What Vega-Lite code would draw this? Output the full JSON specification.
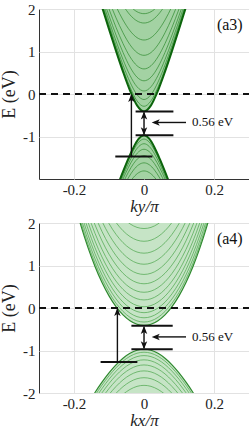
{
  "$schema": "https://vega.github.io/schema/vega-lite/v6.json",
  "background": "white",
  "padding": {"left": 0, "top": 1, "right": 0, "bottom": 0},
  "spacing": 0,
  "config": {
    "font": "'Liberation Serif', 'Times New Roman', serif",
    "view": {"stroke": "#333333", "strokeWidth": 1},
    "axis": {
      "labelFont": "'Liberation Serif', 'Times New Roman', serif", "labelFontSize": 15, "labelColor": "#222222",
      "titleFont": "'Liberation Serif', 'Times New Roman', serif", "titleFontSize": 18, "titleFontWeight": "normal", "titleColor": "#222222",
      "gridColor": "#e2e2e2", "gridWidth": 1, "domain": false, "ticks": false
    },
    "text": {"font": "'Liberation Serif', 'Times New Roman', serif"}
  },
  "datasets": {
    "cb1": [
      {"k": -0.12, "c0": 2.050, "c1": 2.087, "c2": 2.141, "c3": 2.218, "c4": 2.322, "c5": 2.460, "c6": 2.634, "c7": 2.851, "c8": 3.113, "c9": 3.266},
      {"k": -0.10, "c0": 1.526, "c1": 1.569, "c2": 1.633, "c3": 1.722, "c4": 1.842, "c5": 1.999, "c6": 2.196, "c7": 2.437, "c8": 2.726, "c9": 2.892},
      {"k": -0.08, "c0": 1.014, "c1": 1.066, "c2": 1.143, "c3": 1.248, "c4": 1.389, "c5": 1.569, "c6": 1.793, "c7": 2.063, "c8": 2.380, "c9": 2.561},
      {"k": -0.06, "c0": 0.525, "c1": 0.589, "c2": 0.683, "c3": 0.811, "c4": 0.978, "c5": 1.187, "c6": 1.441, "c7": 1.741, "c8": 2.087, "c9": 2.282},
      {"k": -0.04, "c0": 0.080, "c1": 0.163, "c2": 0.280, "c3": 0.437, "c4": 0.634, "c5": 0.875, "c6": 1.159, "c7": 1.489, "c8": 1.862, "c9": 2.070},
      {"k": -0.02, "c0": -0.268, "c1": -0.161, "c2": -0.016, "c3": 0.170, "c4": 0.396, "c5": 0.665, "c6": 0.975, "c7": 1.326, "c8": 1.719, "c9": 1.936},
      {"k": 0, "c0": -0.41, "c1": -0.29, "c2": -0.13, "c3": 0.07, "c4": 0.31, "c5": 0.59, "c6": 0.91, "c7": 1.27, "c8": 1.67, "c9": 1.89},
      {"k": 0.02, "c0": -0.268, "c1": -0.161, "c2": -0.016, "c3": 0.170, "c4": 0.396, "c5": 0.665, "c6": 0.975, "c7": 1.326, "c8": 1.719, "c9": 1.936},
      {"k": 0.04, "c0": 0.080, "c1": 0.163, "c2": 0.280, "c3": 0.437, "c4": 0.634, "c5": 0.875, "c6": 1.159, "c7": 1.489, "c8": 1.862, "c9": 2.070},
      {"k": 0.06, "c0": 0.525, "c1": 0.589, "c2": 0.683, "c3": 0.811, "c4": 0.978, "c5": 1.187, "c6": 1.441, "c7": 1.741, "c8": 2.087, "c9": 2.282},
      {"k": 0.08, "c0": 1.014, "c1": 1.066, "c2": 1.143, "c3": 1.248, "c4": 1.389, "c5": 1.569, "c6": 1.793, "c7": 2.063, "c8": 2.380, "c9": 2.561},
      {"k": 0.10, "c0": 1.526, "c1": 1.569, "c2": 1.633, "c3": 1.722, "c4": 1.842, "c5": 1.999, "c6": 2.196, "c7": 2.437, "c8": 2.726, "c9": 2.892},
      {"k": 0.12, "c0": 2.050, "c1": 2.087, "c2": 2.141, "c3": 2.218, "c4": 2.322, "c5": 2.460, "c6": 2.634, "c7": 2.851, "c8": 3.113, "c9": 3.266}
    ],
    "vb1": [
      {"k": -0.075, "c0": -2.146, "c1": -2.181, "c2": -2.229, "c3": -2.292, "c4": -2.373, "c5": -2.473, "c6": -2.594},
      {"k": -0.06, "c0": -1.828, "c1": -1.871, "c2": -1.928, "c3": -2.002, "c4": -2.095, "c5": -2.209, "c6": -2.346},
      {"k": -0.045, "c0": -1.527, "c1": -1.579, "c2": -1.649, "c3": -1.737, "c4": -1.846, "c5": -1.977, "c6": -2.131},
      {"k": -0.03, "c0": -1.257, "c1": -1.323, "c2": -1.408, "c3": -1.513, "c4": -1.640, "c5": -1.789, "c6": -1.960},
      {"k": -0.015, "c0": -1.052, "c1": -1.133, "c2": -1.235, "c3": -1.357, "c4": -1.500, "c5": -1.664, "c6": -1.849},
      {"k": 0, "c0": -0.97, "c1": -1.06, "c2": -1.17, "c3": -1.30, "c4": -1.45, "c5": -1.62, "c6": -1.81},
      {"k": 0.015, "c0": -1.052, "c1": -1.133, "c2": -1.235, "c3": -1.357, "c4": -1.500, "c5": -1.664, "c6": -1.849},
      {"k": 0.03, "c0": -1.257, "c1": -1.323, "c2": -1.408, "c3": -1.513, "c4": -1.640, "c5": -1.789, "c6": -1.960},
      {"k": 0.045, "c0": -1.527, "c1": -1.579, "c2": -1.649, "c3": -1.737, "c4": -1.846, "c5": -1.977, "c6": -2.131},
      {"k": 0.06, "c0": -1.828, "c1": -1.871, "c2": -1.928, "c3": -2.002, "c4": -2.095, "c5": -2.209, "c6": -2.346},
      {"k": 0.075, "c0": -2.146, "c1": -2.181, "c2": -2.229, "c3": -2.292, "c4": -2.373, "c5": -2.473, "c6": -2.594}
    ],
    "cb2": [
      {"k": -0.20, "c0": 2.517, "c1": 2.597, "c2": 2.697, "c3": 2.817, "c4": 2.957, "c5": 3.117, "c6": 3.297, "c7": 3.497, "c8": 3.717, "c9": 3.957, "c10": 4.217, "c11": 4.497, "c12": 4.797},
      {"k": -0.18, "c0": 1.932, "c1": 2.012, "c2": 2.112, "c3": 2.232, "c4": 2.372, "c5": 2.532, "c6": 2.712, "c7": 2.912, "c8": 3.132, "c9": 3.372, "c10": 3.632, "c11": 3.912, "c12": 4.212},
      {"k": -0.16, "c0": 1.42, "c1": 1.50, "c2": 1.60, "c3": 1.72, "c4": 1.86, "c5": 2.02, "c6": 2.20, "c7": 2.40, "c8": 2.62, "c9": 2.86, "c10": 3.12, "c11": 3.40, "c12": 3.70},
      {"k": -0.14, "c0": 0.977, "c1": 1.057, "c2": 1.157, "c3": 1.277, "c4": 1.417, "c5": 1.577, "c6": 1.757, "c7": 1.957, "c8": 2.177, "c9": 2.417, "c10": 2.677, "c11": 2.957, "c12": 3.257},
      {"k": -0.12, "c0": 0.60, "c1": 0.68, "c2": 0.78, "c3": 0.90, "c4": 1.04, "c5": 1.20, "c6": 1.38, "c7": 1.58, "c8": 1.80, "c9": 2.04, "c10": 2.30, "c11": 2.58, "c12": 2.88},
      {"k": -0.10, "c0": 0.286, "c1": 0.366, "c2": 0.466, "c3": 0.586, "c4": 0.726, "c5": 0.886, "c6": 1.066, "c7": 1.266, "c8": 1.486, "c9": 1.726, "c10": 1.986, "c11": 2.266, "c12": 2.566},
      {"k": -0.08, "c0": 0.033, "c1": 0.113, "c2": 0.213, "c3": 0.333, "c4": 0.473, "c5": 0.633, "c6": 0.813, "c7": 1.013, "c8": 1.233, "c9": 1.473, "c10": 1.733, "c11": 2.013, "c12": 2.313},
      {"k": -0.06, "c0": -0.162, "c1": -0.082, "c2": 0.018, "c3": 0.138, "c4": 0.278, "c5": 0.438, "c6": 0.618, "c7": 0.818, "c8": 1.038, "c9": 1.278, "c10": 1.538, "c11": 1.818, "c12": 2.118},
      {"k": -0.04, "c0": -0.30, "c1": -0.22, "c2": -0.12, "c3": 0.00, "c4": 0.14, "c5": 0.30, "c6": 0.48, "c7": 0.68, "c8": 0.90, "c9": 1.14, "c10": 1.40, "c11": 1.68, "c12": 1.98},
      {"k": -0.02, "c0": -0.383, "c1": -0.303, "c2": -0.203, "c3": -0.083, "c4": 0.057, "c5": 0.217, "c6": 0.397, "c7": 0.597, "c8": 0.817, "c9": 1.057, "c10": 1.317, "c11": 1.597, "c12": 1.897},
      {"k": 0, "c0": -0.41, "c1": -0.33, "c2": -0.23, "c3": -0.11, "c4": 0.03, "c5": 0.19, "c6": 0.37, "c7": 0.57, "c8": 0.79, "c9": 1.03, "c10": 1.29, "c11": 1.57, "c12": 1.87},
      {"k": 0.02, "c0": -0.383, "c1": -0.303, "c2": -0.203, "c3": -0.083, "c4": 0.057, "c5": 0.217, "c6": 0.397, "c7": 0.597, "c8": 0.817, "c9": 1.057, "c10": 1.317, "c11": 1.597, "c12": 1.897},
      {"k": 0.04, "c0": -0.30, "c1": -0.22, "c2": -0.12, "c3": 0.00, "c4": 0.14, "c5": 0.30, "c6": 0.48, "c7": 0.68, "c8": 0.90, "c9": 1.14, "c10": 1.40, "c11": 1.68, "c12": 1.98},
      {"k": 0.06, "c0": -0.162, "c1": -0.082, "c2": 0.018, "c3": 0.138, "c4": 0.278, "c5": 0.438, "c6": 0.618, "c7": 0.818, "c8": 1.038, "c9": 1.278, "c10": 1.538, "c11": 1.818, "c12": 2.118},
      {"k": 0.08, "c0": 0.033, "c1": 0.113, "c2": 0.213, "c3": 0.333, "c4": 0.473, "c5": 0.633, "c6": 0.813, "c7": 1.013, "c8": 1.233, "c9": 1.473, "c10": 1.733, "c11": 2.013, "c12": 2.313},
      {"k": 0.10, "c0": 0.286, "c1": 0.366, "c2": 0.466, "c3": 0.586, "c4": 0.726, "c5": 0.886, "c6": 1.066, "c7": 1.266, "c8": 1.486, "c9": 1.726, "c10": 1.986, "c11": 2.266, "c12": 2.566},
      {"k": 0.12, "c0": 0.60, "c1": 0.68, "c2": 0.78, "c3": 0.90, "c4": 1.04, "c5": 1.20, "c6": 1.38, "c7": 1.58, "c8": 1.80, "c9": 2.04, "c10": 2.30, "c11": 2.58, "c12": 2.88},
      {"k": 0.14, "c0": 0.977, "c1": 1.057, "c2": 1.157, "c3": 1.277, "c4": 1.417, "c5": 1.577, "c6": 1.757, "c7": 1.957, "c8": 2.177, "c9": 2.417, "c10": 2.677, "c11": 2.957, "c12": 3.257},
      {"k": 0.16, "c0": 1.42, "c1": 1.50, "c2": 1.60, "c3": 1.72, "c4": 1.86, "c5": 2.02, "c6": 2.20, "c7": 2.40, "c8": 2.62, "c9": 2.86, "c10": 3.12, "c11": 3.40, "c12": 3.70},
      {"k": 0.18, "c0": 1.932, "c1": 2.012, "c2": 2.112, "c3": 2.232, "c4": 2.372, "c5": 2.532, "c6": 2.712, "c7": 2.912, "c8": 3.132, "c9": 3.372, "c10": 3.632, "c11": 3.912, "c12": 4.212},
      {"k": 0.20, "c0": 2.517, "c1": 2.597, "c2": 2.697, "c3": 2.817, "c4": 2.957, "c5": 3.117, "c6": 3.297, "c7": 3.497, "c8": 3.717, "c9": 3.957, "c10": 4.217, "c11": 4.497, "c12": 4.797}
    ],
    "vb2": [
      {"k": -0.16, "c0": -2.252, "c1": -2.322, "c2": -2.402, "c3": -2.502, "c4": -2.622, "c5": -2.762, "c6": -2.922, "c7": -3.102},
      {"k": -0.14, "c0": -1.988, "c1": -2.058, "c2": -2.138, "c3": -2.238, "c4": -2.358, "c5": -2.498, "c6": -2.658, "c7": -2.838},
      {"k": -0.12, "c0": -1.745, "c1": -1.815, "c2": -1.895, "c3": -1.995, "c4": -2.115, "c5": -2.255, "c6": -2.415, "c7": -2.595},
      {"k": -0.10, "c0": -1.526, "c1": -1.596, "c2": -1.676, "c3": -1.776, "c4": -1.896, "c5": -2.036, "c6": -2.196, "c7": -2.376},
      {"k": -0.08, "c0": -1.337, "c1": -1.407, "c2": -1.487, "c3": -1.587, "c4": -1.707, "c5": -1.847, "c6": -2.007, "c7": -2.187},
      {"k": -0.06, "c0": -1.181, "c1": -1.251, "c2": -1.331, "c3": -1.431, "c4": -1.551, "c5": -1.691, "c6": -1.851, "c7": -2.031},
      {"k": -0.04, "c0": -1.066, "c1": -1.136, "c2": -1.216, "c3": -1.316, "c4": -1.436, "c5": -1.576, "c6": -1.736, "c7": -1.916},
      {"k": -0.02, "c0": -0.994, "c1": -1.064, "c2": -1.144, "c3": -1.244, "c4": -1.364, "c5": -1.504, "c6": -1.664, "c7": -1.844},
      {"k": 0, "c0": -0.97, "c1": -1.04, "c2": -1.12, "c3": -1.22, "c4": -1.34, "c5": -1.48, "c6": -1.64, "c7": -1.82},
      {"k": 0.02, "c0": -0.994, "c1": -1.064, "c2": -1.144, "c3": -1.244, "c4": -1.364, "c5": -1.504, "c6": -1.664, "c7": -1.844},
      {"k": 0.04, "c0": -1.066, "c1": -1.136, "c2": -1.216, "c3": -1.316, "c4": -1.436, "c5": -1.576, "c6": -1.736, "c7": -1.916},
      {"k": 0.06, "c0": -1.181, "c1": -1.251, "c2": -1.331, "c3": -1.431, "c4": -1.551, "c5": -1.691, "c6": -1.851, "c7": -2.031},
      {"k": 0.08, "c0": -1.337, "c1": -1.407, "c2": -1.487, "c3": -1.587, "c4": -1.707, "c5": -1.847, "c6": -2.007, "c7": -2.187},
      {"k": 0.10, "c0": -1.526, "c1": -1.596, "c2": -1.676, "c3": -1.776, "c4": -1.896, "c5": -2.036, "c6": -2.196, "c7": -2.376},
      {"k": 0.12, "c0": -1.745, "c1": -1.815, "c2": -1.895, "c3": -1.995, "c4": -2.115, "c5": -2.255, "c6": -2.415, "c7": -2.595},
      {"k": 0.14, "c0": -1.988, "c1": -2.058, "c2": -2.138, "c3": -2.238, "c4": -2.358, "c5": -2.498, "c6": -2.658, "c7": -2.838},
      {"k": 0.16, "c0": -2.252, "c1": -2.322, "c2": -2.402, "c3": -2.502, "c4": -2.622, "c5": -2.762, "c6": -2.922, "c7": -3.102}
    ],
    "dash": [{"k": -0.3, "k2": 0.3, "E": 0, "E2": 0}],
    "bars1": [
      {"k": -0.024, "k2": 0.084, "E": -0.41, "E2": -0.41},
      {"k": -0.024, "k2": 0.084, "E": -0.97, "E2": -0.97},
      {"k": -0.082, "k2": 0.024, "E": -1.47, "E2": -1.47}
    ],
    "shafts1": [
      {"k": -0.036, "k2": -0.036, "E": -1.47, "E2": -0.03},
      {"k": 0, "k2": 0, "E": -0.44, "E2": -0.94},
      {"k": 0.12, "k2": 0.03, "E": -0.67, "E2": -0.67}
    ],
    "up1": [{"k": -0.036, "E": 0}, {"k": 0, "E": -0.41}],
    "down1": [{"k": 0, "E": -0.97}],
    "left1": [{"k": 0.022, "E": -0.67}],
    "gap1": [{"k": 0.137, "E": -0.67, "label": "0.56 eV"}],
    "tag1": [{"k": 0.245, "E": 1.62, "label": "(a3)"}],
    "bars2": [
      {"k": -0.036, "k2": 0.082, "E": -0.42, "E2": -0.42},
      {"k": -0.036, "k2": 0.082, "E": -0.97, "E2": -0.97},
      {"k": -0.124, "k2": -0.019, "E": -1.27, "E2": -1.27}
    ],
    "shafts2": [
      {"k": -0.076, "k2": -0.076, "E": -1.27, "E2": -0.03},
      {"k": 0, "k2": 0, "E": -0.45, "E2": -0.94},
      {"k": 0.12, "k2": 0.03, "E": -0.68, "E2": -0.68}
    ],
    "up2": [{"k": -0.076, "E": 0}, {"k": 0, "E": -0.42}],
    "down2": [{"k": 0, "E": -0.97}],
    "left2": [{"k": 0.022, "E": -0.68}],
    "gap2": [{"k": 0.137, "E": -0.68, "label": "0.56 eV"}],
    "tag2": [{"k": 0.245, "E": 1.62, "label": "(a4)"}]
  },
  "vconcat": [
    {
      "width": 210, "height": 170,
      "encoding": {
        "x": {"field": "k", "type": "quantitative", "scale": {"domain": [-0.3, 0.3], "nice": false, "zero": false},
              "axis": {"values": [-0.2, 0, 0.2], "labelExpr": "'' + datum.value", "title": "ky/π", "titleFontStyle": "italic", "titleFontSize": 17, "labelPadding": 3, "titlePadding": 1}},
        "y": {"field": "E", "type": "quantitative", "scale": {"domain": [-2, 2], "nice": false, "zero": false},
              "axis": {"values": [-1, 0, 1, 2], "labelExpr": "'' + datum.value", "title": "E (eV)", "labelPadding": 4, "titlePadding": 4}}
      },
      "layer": [
        {"data": {"name": "cb1"}, "transform": [{"fold": ["c0"], "as": ["curve", "E"]}],
         "mark": {"type": "area", "interpolate": "monotone", "clip": true, "color": "#a3d2a3"},
         "encoding": {"y2": {"datum": 2}}},
        {"data": {"name": "vb1"}, "transform": [{"fold": ["c0"], "as": ["curve", "E"]}],
         "mark": {"type": "area", "interpolate": "monotone", "clip": true, "color": "#a3d2a3"},
         "encoding": {"y2": {"datum": -2}}},
        {"data": {"name": "cb1"}, "transform": [{"fold": ["c1", "c2", "c3", "c4", "c5", "c6", "c7", "c8", "c9"], "as": ["curve", "E"]}],
         "mark": {"type": "line", "interpolate": "monotone", "clip": true, "color": "#2e8a2e", "strokeWidth": 0.7},
         "encoding": {"detail": {"field": "curve"}}},
        {"data": {"name": "vb1"}, "transform": [{"fold": ["c1", "c2", "c3", "c4", "c5", "c6"], "as": ["curve", "E"]}],
         "mark": {"type": "line", "interpolate": "monotone", "clip": true, "color": "#2e8a2e", "strokeWidth": 0.7},
         "encoding": {"detail": {"field": "curve"}}},
        {"data": {"name": "cb1"}, "transform": [{"fold": ["c0"], "as": ["curve", "E"]}],
         "mark": {"type": "line", "interpolate": "monotone", "clip": true, "color": "#0c650c", "strokeWidth": 2},
         "encoding": {}},
        {"data": {"name": "vb1"}, "transform": [{"fold": ["c0"], "as": ["curve", "E"]}],
         "mark": {"type": "line", "interpolate": "monotone", "clip": true, "color": "#0c650c", "strokeWidth": 2},
         "encoding": {}},
        {"data": {"name": "dash"}, "mark": {"type": "rule", "color": "#111111", "strokeWidth": 2, "strokeDash": [7, 5]},
         "encoding": {"x2": {"field": "k2"}, "y2": {"field": "E2"}}},
        {"data": {"name": "bars1"}, "mark": {"type": "rule", "color": "#111111", "strokeWidth": 2},
         "encoding": {"x2": {"field": "k2"}, "y2": {"field": "E2"}}},
        {"data": {"name": "shafts1"}, "mark": {"type": "rule", "color": "#111111", "strokeWidth": 1.4},
         "encoding": {"x2": {"field": "k2"}, "y2": {"field": "E2"}}},
        {"data": {"name": "up1"}, "mark": {"type": "point", "shape": "M0,0L-0.4,1L0,0.75L0.4,1Z", "filled": true, "opacity": 1, "color": "#111111", "size": 260, "angle": 0}},
        {"data": {"name": "down1"}, "mark": {"type": "point", "shape": "M0,0L-0.4,1L0,0.75L0.4,1Z", "filled": true, "opacity": 1, "color": "#111111", "size": 260, "angle": 180}},
        {"data": {"name": "left1"}, "mark": {"type": "point", "shape": "M0,0L-0.4,1L0,0.75L0.4,1Z", "filled": true, "opacity": 1, "color": "#111111", "size": 260, "angle": 270}},
        {"data": {"name": "gap1"}, "mark": {"type": "text", "align": "left", "baseline": "middle", "fontSize": 13, "color": "#111111"},
         "encoding": {"text": {"field": "label"}}},
        {"data": {"name": "tag1"}, "mark": {"type": "text", "align": "center", "baseline": "middle", "fontSize": 16, "color": "#111111"},
         "encoding": {"text": {"field": "label"}}}
      ]
    },
    {
      "width": 210, "height": 170,
      "encoding": {
        "x": {"field": "k", "type": "quantitative", "scale": {"domain": [-0.3, 0.3], "nice": false, "zero": false},
              "axis": {"values": [-0.2, 0, 0.2], "labelExpr": "'' + datum.value", "title": "kx/π", "titleFontStyle": "italic", "titleFontSize": 17, "labelPadding": 3, "titlePadding": 1}},
        "y": {"field": "E", "type": "quantitative", "scale": {"domain": [-2, 2], "nice": false, "zero": false},
              "axis": {"values": [-2, -1, 0, 1, 2], "labelExpr": "'' + datum.value", "title": "E (eV)", "labelPadding": 4, "titlePadding": 4}}
      },
      "layer": [
        {"data": {"name": "cb2"}, "transform": [{"fold": ["c0"], "as": ["curve", "E"]}],
         "mark": {"type": "area", "interpolate": "monotone", "clip": true, "color": "#c6e4c6"},
         "encoding": {"y2": {"datum": 2}}},
        {"data": {"name": "vb2"}, "transform": [{"fold": ["c0"], "as": ["curve", "E"]}],
         "mark": {"type": "area", "interpolate": "monotone", "clip": true, "color": "#c6e4c6"},
         "encoding": {"y2": {"datum": -2}}},
        {"data": {"name": "cb2"}, "transform": [{"fold": ["c1", "c2", "c3", "c4", "c5", "c6", "c7", "c8", "c9", "c10", "c11", "c12"], "as": ["curve", "E"]}],
         "mark": {"type": "line", "interpolate": "monotone", "clip": true, "color": "#4aa54a", "strokeWidth": 0.7},
         "encoding": {"detail": {"field": "curve"}}},
        {"data": {"name": "vb2"}, "transform": [{"fold": ["c1", "c2", "c3", "c4", "c5", "c6", "c7"], "as": ["curve", "E"]}],
         "mark": {"type": "line", "interpolate": "monotone", "clip": true, "color": "#4aa54a", "strokeWidth": 0.7},
         "encoding": {"detail": {"field": "curve"}}},
        {"data": {"name": "cb2"}, "transform": [{"fold": ["c0"], "as": ["curve", "E"]}],
         "mark": {"type": "line", "interpolate": "monotone", "clip": true, "color": "#2f8a2f", "strokeWidth": 1.2},
         "encoding": {}},
        {"data": {"name": "vb2"}, "transform": [{"fold": ["c0"], "as": ["curve", "E"]}],
         "mark": {"type": "line", "interpolate": "monotone", "clip": true, "color": "#2f8a2f", "strokeWidth": 1.2},
         "encoding": {}},
        {"data": {"name": "dash"}, "mark": {"type": "rule", "color": "#111111", "strokeWidth": 2, "strokeDash": [7, 5]},
         "encoding": {"x2": {"field": "k2"}, "y2": {"field": "E2"}}},
        {"data": {"name": "bars2"}, "mark": {"type": "rule", "color": "#111111", "strokeWidth": 2},
         "encoding": {"x2": {"field": "k2"}, "y2": {"field": "E2"}}},
        {"data": {"name": "shafts2"}, "mark": {"type": "rule", "color": "#111111", "strokeWidth": 1.4},
         "encoding": {"x2": {"field": "k2"}, "y2": {"field": "E2"}}},
        {"data": {"name": "up2"}, "mark": {"type": "point", "shape": "M0,0L-0.4,1L0,0.75L0.4,1Z", "filled": true, "opacity": 1, "color": "#111111", "size": 260, "angle": 0}},
        {"data": {"name": "down2"}, "mark": {"type": "point", "shape": "M0,0L-0.4,1L0,0.75L0.4,1Z", "filled": true, "opacity": 1, "color": "#111111", "size": 260, "angle": 180}},
        {"data": {"name": "left2"}, "mark": {"type": "point", "shape": "M0,0L-0.4,1L0,0.75L0.4,1Z", "filled": true, "opacity": 1, "color": "#111111", "size": 260, "angle": 270}},
        {"data": {"name": "gap2"}, "mark": {"type": "text", "align": "left", "baseline": "middle", "fontSize": 13, "color": "#111111"},
         "encoding": {"text": {"field": "label"}}},
        {"data": {"name": "tag2"}, "mark": {"type": "text", "align": "center", "baseline": "middle", "fontSize": 16, "color": "#111111"},
         "encoding": {"text": {"field": "label"}}}
      ]
    }
  ]
}
